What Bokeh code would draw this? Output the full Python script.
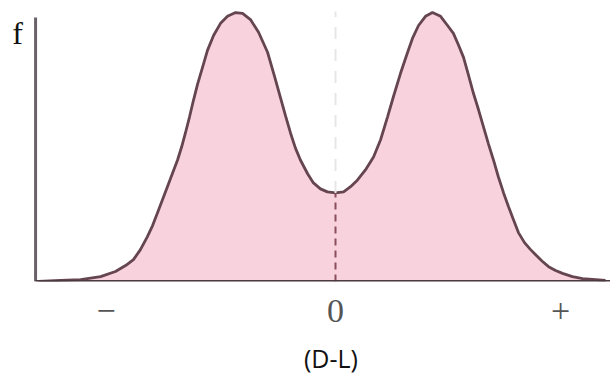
from bokeh.plotting import figure
from bokeh.models import Range1d, Label, FixedTicker, LinearAxis
from bokeh.embed import file_html
from bokeh.resources import INLINE

# Curve: D-L value (x) and frequency f (y, peak ~1)
dl = [-1.320, -1.222, -1.133, -1.044, -0.978, -0.933, -0.898, -0.867, -0.836, -0.813,
      -0.791, -0.769, -0.747, -0.724, -0.702, -0.684, -0.667, -0.649, -0.631, -0.613,
      -0.591, -0.569, -0.542, -0.511, -0.480, -0.444, -0.413, -0.378, -0.342, -0.302,
      -0.271, -0.244, -0.222, -0.200, -0.178, -0.156, -0.124, -0.098, -0.067, -0.036,
      0.000, 0.036, 0.067, 0.098, 0.133, 0.169, 0.200, 0.231, 0.258, 0.289,
      0.316, 0.342, 0.369, 0.400, 0.431, 0.467, 0.498, 0.524, 0.547, 0.569,
      0.591, 0.613, 0.636, 0.658, 0.680, 0.702, 0.724, 0.747, 0.769, 0.791,
      0.813, 0.840, 0.867, 0.893, 0.920, 0.947, 0.978, 1.009, 1.053, 1.098,
      1.156, 1.200]
freq = [0.000, 0.004, 0.007, 0.018, 0.037, 0.059, 0.081, 0.118, 0.166, 0.207,
        0.255, 0.303, 0.351, 0.402, 0.450, 0.498, 0.550, 0.609, 0.672, 0.731,
        0.793, 0.856, 0.911, 0.956, 0.982, 0.996, 0.993, 0.970, 0.923, 0.849,
        0.760, 0.679, 0.613, 0.550, 0.494, 0.450, 0.399, 0.365, 0.343, 0.332,
        0.328, 0.332, 0.351, 0.376, 0.413, 0.461, 0.524, 0.609, 0.686, 0.771,
        0.838, 0.900, 0.948, 0.982, 0.996, 0.982, 0.948, 0.919, 0.875, 0.830,
        0.764, 0.697, 0.635, 0.572, 0.509, 0.450, 0.387, 0.328, 0.277, 0.229,
        0.181, 0.144, 0.118, 0.096, 0.074, 0.055, 0.041, 0.030, 0.018, 0.011,
        0.007, 0.004]

tick_pos = [-1.02, 0, 1]
tick_text = ["\u2212", "0", "+"]
x_title = "(D-L)"
x_title_pos = -0.02
y_title = "f"
center_min = 0.328
y_axis_top = 0.978
x_axis_start = -1.333
x_axis_end = 1.222

p = figure(width=610, height=377, output_backend="svg", toolbar_location=None,
           x_range=Range1d(-1.4889, 1.2222), y_range=Range1d(0, 1.0406),
           min_border_left=0, min_border_right=0, min_border_top=0, min_border_bottom=95)
p.outline_line_color = None
p.xgrid.visible = False
p.ygrid.visible = False
p.yaxis.visible = False
p.background_fill_color = "white"

p.varea(x=dl, y1=0, y2=freq, fill_color="#f8d3de", fill_alpha=1.0)
p.line(x=dl, y=freq, line_color="#654550", line_width=2.8)

# dashed centre line
p.segment(x0=[0], y0=[0], x1=[0], y1=[center_min], line_color="#8a4d5c",
          line_width=2, line_dash="7 5")
p.segment(x0=[0], y0=[center_min], x1=[0], y1=[1.0], line_color="#e6e6e6",
          line_width=2, line_dash="12 10")

# vertical axis and baseline
p.segment(x0=[x_axis_start], y0=[0], x1=[x_axis_start], y1=[y_axis_top],
          line_color="#6a6268", line_width=3)
p.segment(x0=[x_axis_start], y0=[0], x1=[x_axis_end], y1=[0],
          line_color="#4a3b41", line_width=3)

ax = p.xaxis[0]
ax.ticker = FixedTicker(ticks=tick_pos)
ax.major_label_overrides = {t: s for t, s in zip(tick_pos, tick_text)}
ax.major_tick_line_color = None
ax.minor_tick_line_color = None
ax.major_tick_out = 0
ax.major_tick_in = 0
ax.axis_line_color = None
ax.major_label_text_font = "Liberation Serif"
ax.major_label_text_font_size = "34px"
ax.major_label_text_color = "#555555"
ax.major_label_standoff = 18

# second axis carrying the title, centred under the 0 mark
tax = LinearAxis(ticker=FixedTicker(ticks=[x_title_pos]),
                 major_label_overrides={x_title_pos: x_title})
tax.major_tick_line_color = None
tax.minor_tick_line_color = None
tax.major_tick_out = 0
tax.major_tick_in = 0
tax.axis_line_color = None
tax.major_label_text_font = "Open Sans"
tax.major_label_text_font_size = "25px"
tax.major_label_text_color = "#111111"
tax.major_label_standoff = 16
p.add_layout(tax, "below")

p.add_layout(Label(x=-1.413, y=0.922, text=y_title, text_font="Liberation Serif",
                   text_font_size="32px", text_color="#111111",
                   text_align="center", text_baseline="middle"))

open("out.html", "w").write(file_html(p, INLINE))
